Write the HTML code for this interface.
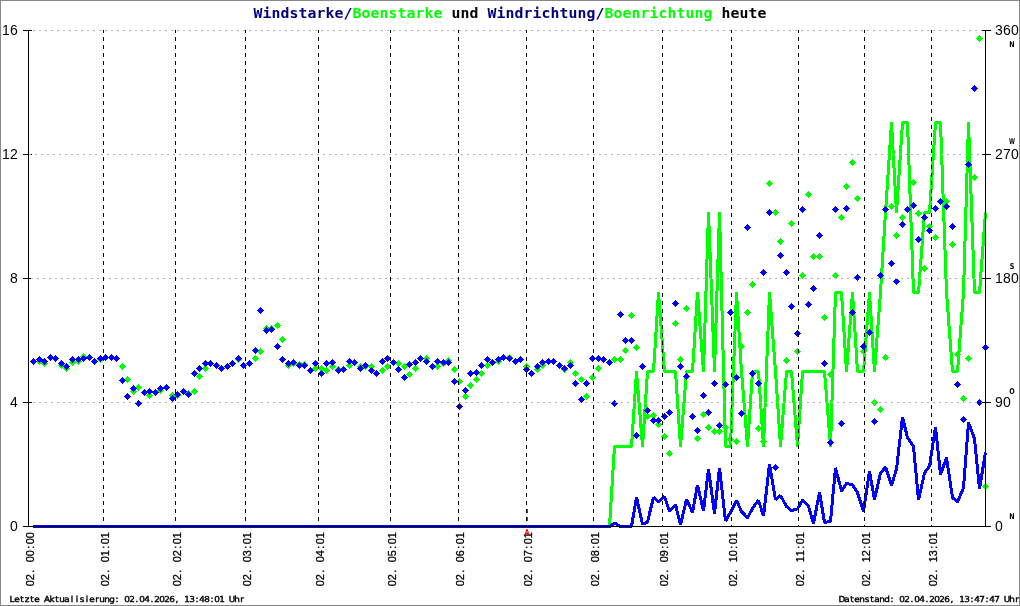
<!DOCTYPE html>
<html lang="de"><head><meta charset="utf-8">
<title>Windstarke/Boenstarke und Windrichtung/Boenrichtung heute</title>
<style>
html,body{margin:0;padding:0;background:#fff;overflow:hidden}
svg{display:block;will-change:transform}
text{white-space:pre}
.t{font-family:"DejaVu Sans Mono","Liberation Mono",monospace;font-weight:bold;font-size:13.6px}
.y{font-family:"Liberation Sans","DejaVu Sans",sans-serif;font-size:14px;fill:#000}
.x{font-family:"Liberation Sans","DejaVu Sans",sans-serif;font-size:10.9px;fill:#000;stroke:#000;stroke-width:0.3px}
.f{font-family:"DejaVu Sans","Liberation Sans",sans-serif;font-weight:normal;text-rendering:geometricPrecision;font-size:8.2px;fill:#000;stroke:#000;stroke-width:0.4px}
.c{font-family:"DejaVu Sans","Liberation Sans",sans-serif;font-weight:bold;font-size:8px}
</style></head><body>
<svg width="1020" height="606" viewBox="0 0 1020 606">
<defs><g id="d"><rect x="-3" y="0" width="7" height="1"/><rect x="-2" y="-1" width="5" height="3"/><rect x="-1" y="-2" width="3" height="5"/><rect x="0" y="-3" width="1" height="7"/></g></defs>
<rect x="0" y="0" width="1020" height="606" fill="#fff"/>
<polyline points="33.0,526.5 39.5,526.5 44.5,526.5 50.5,526.5 55.5,526.5 61.5,526.5 66.5,526.5 72.5,526.5 78.5,526.5 83.5,526.5 89.5,526.5 94.5,526.5 100.5,526.5 105.5,526.5 111.5,526.5 116.5,526.5 122.5,526.5 127.5,526.5 133.5,526.5 138.5,526.5 144.5,526.5 149.5,526.5 155.5,526.5 160.5,526.5 166.5,526.5 172.5,526.5 177.5,526.5 183.5,526.5 188.5,526.5 194.5,526.5 199.5,526.5 205.5,526.5 210.5,526.5 216.5,526.5 221.5,526.5 227.5,526.5 232.5,526.5 238.5,526.5 243.5,526.5 249.5,526.5 255.5,526.5 260.5,526.5 266.5,526.5 271.5,526.5 277.5,526.5 282.5,526.5 288.5,526.5 293.5,526.5 299.5,526.5 304.5,526.5 310.5,526.5 315.5,526.5 321.5,526.5 326.5,526.5 332.5,526.5 338.5,526.5 343.5,526.5 349.5,526.5 354.5,526.5 360.5,526.5 365.5,526.5 371.5,526.5 376.5,526.5 382.5,526.5 387.5,526.5 393.5,526.5 398.5,526.5 404.5,526.5 409.5,526.5 415.5,526.5 420.5,526.5 426.5,526.5 432.5,526.5 437.5,526.5 443.5,526.5 448.5,526.5 454.5,526.5 459.5,526.5 465.5,526.5 470.5,526.5 476.5,526.5 481.5,526.5 487.5,526.5 492.5,526.5 498.5,526.5 503.5,526.5 509.5,526.5 515.5,526.5 520.5,526.5 526.5,526.5 531.5,526.5 537.5,526.5 542.5,526.5 548.5,526.5 553.5,526.5 559.5,526.5 564.5,526.5 570.5,526.5 575.5,526.5 581.5,526.5 586.5,526.5 592.5,526.5 598.5,526.5 603.5,526.5 609.5,526.5 614.5,446.5 620.5,446.5 625.5,446.5 631.5,446.5 636.5,371.5 642.5,446.5 647.5,371.5 653.5,371.5 658.5,292.5 664.5,371.5 669.5,371.5 675.5,371.5 680.5,446.5 686.5,371.5 692.5,371.5 697.5,292.5 703.5,371.5 708.5,212.5 714.5,371.5 719.5,212.5 725.5,446.5 730.5,446.5 736.5,292.5 741.5,371.5 747.5,446.5 752.5,371.5 758.5,371.5 763.5,446.5 769.5,292.5 775.5,371.5 780.5,446.5 786.5,371.5 791.5,371.5 797.5,446.5 802.5,371.5 808.5,371.5 813.5,371.5 819.5,371.5 824.5,371.5 830.5,446.5 835.5,292.5 841.5,292.5 846.5,371.5 852.5,292.5 857.5,371.5 863.5,371.5 869.5,292.5 874.5,371.5 880.5,292.5 885.5,212.5 891.5,122.5 896.5,212.5 902.5,122.5 907.5,122.5 913.5,292.5 918.5,292.5 924.5,212.5 929.5,212.5 935.5,122.5 940.5,122.5 946.5,292.5 952.5,371.5 957.5,371.5 963.5,292.5 968.5,122.5 974.5,292.5 979.5,292.5 985.5,212.5" fill="none" stroke="#00ff00" stroke-width="3" stroke-linejoin="bevel" stroke-linecap="butt" shape-rendering="crispEdges"/>
<polyline points="33.0,526.5 39.5,526.5 44.5,526.5 50.5,526.5 55.5,526.5 61.5,526.5 66.5,526.5 72.5,526.5 78.5,526.5 83.5,526.5 89.5,526.5 94.5,526.5 100.5,526.5 105.5,526.5 111.5,526.5 116.5,526.5 122.5,526.5 127.5,526.5 133.5,526.5 138.5,526.5 144.5,526.5 149.5,526.5 155.5,526.5 160.5,526.5 166.5,526.5 172.5,526.5 177.5,526.5 183.5,526.5 188.5,526.5 194.5,526.5 199.5,526.5 205.5,526.5 210.5,526.5 216.5,526.5 221.5,526.5 227.5,526.5 232.5,526.5 238.5,526.5 243.5,526.5 249.5,526.5 255.5,526.5 260.5,526.5 266.5,526.5 271.5,526.5 277.5,526.5 282.5,526.5 288.5,526.5 293.5,526.5 299.5,526.5 304.5,526.5 310.5,526.5 315.5,526.5 321.5,526.5 326.5,526.5 332.5,526.5 338.5,526.5 343.5,526.5 349.5,526.5 354.5,526.5 360.5,526.5 365.5,526.5 371.5,526.5 376.5,526.5 382.5,526.5 387.5,526.5 393.5,526.5 398.5,526.5 404.5,526.5 409.5,526.5 415.5,526.5 420.5,526.5 426.5,526.5 432.5,526.5 437.5,526.5 443.5,526.5 448.5,526.5 454.5,526.5 459.5,526.5 465.5,526.5 470.5,526.5 476.5,526.5 481.5,526.5 487.5,526.5 492.5,526.5 498.5,526.5 503.5,526.5 509.5,526.5 515.5,526.5 520.5,526.5 526.5,526.5 531.5,526.5 537.5,526.5 542.5,526.5 548.5,526.5 553.5,526.5 559.5,526.5 564.5,526.5 570.5,526.5 575.5,526.5 581.5,526.5 586.5,526.5 592.5,526.5 598.5,526.5 603.5,526.5 609.5,526.5 614.5,523.0 620.5,526.5 625.5,526.5 631.5,526.5 636.5,497.2 642.5,524.3 647.5,521.9 653.5,497.4 658.5,501.5 664.5,496.6 669.5,511.4 675.5,504.6 680.5,525.0 686.5,499.4 692.5,512.3 697.5,485.0 703.5,510.7 708.5,469.0 714.5,513.5 719.5,467.8 725.5,521.0 730.5,512.3 736.5,500.2 741.5,511.4 747.5,517.8 752.5,508.4 758.5,500.2 763.5,516.0 769.5,464.4 775.5,499.6 780.5,495.6 786.5,506.4 791.5,510.6 797.5,508.8 802.5,500.2 808.5,506.4 813.5,523.4 819.5,492.5 824.5,522.4 830.5,521.4 835.5,467.8 841.5,491.1 846.5,483.3 852.5,484.8 857.5,492.7 863.5,511.4 869.5,471.3 874.5,499.6 880.5,473.0 885.5,467.2 891.5,485.2 896.5,469.1 902.5,417.2 907.5,437.7 913.5,446.5 918.5,500.0 924.5,473.0 929.5,466.2 935.5,427.0 940.5,474.6 946.5,457.7 952.5,497.6 957.5,501.9 963.5,487.8 968.5,422.4 974.5,438.7 979.5,488.8 985.5,452.4" fill="none" stroke="#0000ff" stroke-width="3" stroke-linejoin="bevel" stroke-linecap="butt" shape-rendering="crispEdges"/>
<g fill="#00ff00" shape-rendering="crispEdges">
<use href="#d" x="33" y="361"/>
<use href="#d" x="39" y="361"/>
<use href="#d" x="44" y="363"/>
<use href="#d" x="50" y="357"/>
<use href="#d" x="55" y="358"/>
<use href="#d" x="61" y="365"/>
<use href="#d" x="66" y="368"/>
<use href="#d" x="72" y="362"/>
<use href="#d" x="78" y="361"/>
<use href="#d" x="83" y="356"/>
<use href="#d" x="89" y="357"/>
<use href="#d" x="94" y="361"/>
<use href="#d" x="100" y="359"/>
<use href="#d" x="105" y="357"/>
<use href="#d" x="111" y="357"/>
<use href="#d" x="116" y="358"/>
<use href="#d" x="122" y="366"/>
<use href="#d" x="127" y="379"/>
<use href="#d" x="133" y="391"/>
<use href="#d" x="138" y="387"/>
<use href="#d" x="144" y="392"/>
<use href="#d" x="149" y="395"/>
<use href="#d" x="155" y="392"/>
<use href="#d" x="160" y="390"/>
<use href="#d" x="166" y="387"/>
<use href="#d" x="172" y="395"/>
<use href="#d" x="177" y="395"/>
<use href="#d" x="183" y="391"/>
<use href="#d" x="188" y="393"/>
<use href="#d" x="194" y="391"/>
<use href="#d" x="199" y="376"/>
<use href="#d" x="205" y="368"/>
<use href="#d" x="210" y="363"/>
<use href="#d" x="216" y="365"/>
<use href="#d" x="221" y="368"/>
<use href="#d" x="227" y="366"/>
<use href="#d" x="232" y="363"/>
<use href="#d" x="238" y="359"/>
<use href="#d" x="243" y="365"/>
<use href="#d" x="249" y="363"/>
<use href="#d" x="255" y="358"/>
<use href="#d" x="260" y="351"/>
<use href="#d" x="266" y="328"/>
<use href="#d" x="271" y="328"/>
<use href="#d" x="277" y="325"/>
<use href="#d" x="282" y="339"/>
<use href="#d" x="288" y="365"/>
<use href="#d" x="293" y="363"/>
<use href="#d" x="299" y="364"/>
<use href="#d" x="304" y="364"/>
<use href="#d" x="310" y="370"/>
<use href="#d" x="315" y="368"/>
<use href="#d" x="321" y="368"/>
<use href="#d" x="326" y="370"/>
<use href="#d" x="332" y="366"/>
<use href="#d" x="338" y="369"/>
<use href="#d" x="343" y="369"/>
<use href="#d" x="349" y="365"/>
<use href="#d" x="354" y="362"/>
<use href="#d" x="360" y="366"/>
<use href="#d" x="365" y="366"/>
<use href="#d" x="371" y="366"/>
<use href="#d" x="376" y="373"/>
<use href="#d" x="382" y="370"/>
<use href="#d" x="387" y="366"/>
<use href="#d" x="393" y="362"/>
<use href="#d" x="398" y="363"/>
<use href="#d" x="404" y="366"/>
<use href="#d" x="409" y="374"/>
<use href="#d" x="415" y="368"/>
<use href="#d" x="420" y="358"/>
<use href="#d" x="426" y="358"/>
<use href="#d" x="432" y="366"/>
<use href="#d" x="437" y="366"/>
<use href="#d" x="443" y="363"/>
<use href="#d" x="448" y="360"/>
<use href="#d" x="454" y="369"/>
<use href="#d" x="459" y="381"/>
<use href="#d" x="465" y="396"/>
<use href="#d" x="470" y="385"/>
<use href="#d" x="476" y="379"/>
<use href="#d" x="481" y="373"/>
<use href="#d" x="487" y="365"/>
<use href="#d" x="492" y="362"/>
<use href="#d" x="498" y="361"/>
<use href="#d" x="503" y="357"/>
<use href="#d" x="509" y="357"/>
<use href="#d" x="515" y="361"/>
<use href="#d" x="520" y="359"/>
<use href="#d" x="526" y="366"/>
<use href="#d" x="531" y="373"/>
<use href="#d" x="537" y="369"/>
<use href="#d" x="542" y="365"/>
<use href="#d" x="548" y="361"/>
<use href="#d" x="553" y="361"/>
<use href="#d" x="559" y="365"/>
<use href="#d" x="564" y="369"/>
<use href="#d" x="570" y="362"/>
<use href="#d" x="575" y="373"/>
<use href="#d" x="581" y="379"/>
<use href="#d" x="586" y="396"/>
<use href="#d" x="592" y="377"/>
<use href="#d" x="598" y="368"/>
<use href="#d" x="603" y="359"/>
<use href="#d" x="609" y="362"/>
<use href="#d" x="614" y="359"/>
<use href="#d" x="620" y="359"/>
<use href="#d" x="625" y="350"/>
<use href="#d" x="631" y="315"/>
<use href="#d" x="636" y="347"/>
<use href="#d" x="642" y="366"/>
<use href="#d" x="647" y="416"/>
<use href="#d" x="653" y="415"/>
<use href="#d" x="658" y="424"/>
<use href="#d" x="664" y="436"/>
<use href="#d" x="669" y="453"/>
<use href="#d" x="675" y="323"/>
<use href="#d" x="680" y="359"/>
<use href="#d" x="686" y="308"/>
<use href="#d" x="692" y="416"/>
<use href="#d" x="697" y="438"/>
<use href="#d" x="703" y="414"/>
<use href="#d" x="708" y="427"/>
<use href="#d" x="714" y="431"/>
<use href="#d" x="719" y="431"/>
<use href="#d" x="725" y="427"/>
<use href="#d" x="730" y="439"/>
<use href="#d" x="736" y="441"/>
<use href="#d" x="741" y="346"/>
<use href="#d" x="747" y="312"/>
<use href="#d" x="752" y="284"/>
<use href="#d" x="758" y="428"/>
<use href="#d" x="763" y="441"/>
<use href="#d" x="769" y="183"/>
<use href="#d" x="775" y="212"/>
<use href="#d" x="780" y="241"/>
<use href="#d" x="786" y="360"/>
<use href="#d" x="791" y="223"/>
<use href="#d" x="797" y="351"/>
<use href="#d" x="802" y="275"/>
<use href="#d" x="808" y="194"/>
<use href="#d" x="813" y="256"/>
<use href="#d" x="819" y="256"/>
<use href="#d" x="824" y="317"/>
<use href="#d" x="830" y="374"/>
<use href="#d" x="835" y="275"/>
<use href="#d" x="841" y="217"/>
<use href="#d" x="846" y="186"/>
<use href="#d" x="852" y="162"/>
<use href="#d" x="857" y="198"/>
<use href="#d" x="863" y="351"/>
<use href="#d" x="869" y="332"/>
<use href="#d" x="874" y="402"/>
<use href="#d" x="880" y="409"/>
<use href="#d" x="885" y="357"/>
<use href="#d" x="891" y="206"/>
<use href="#d" x="896" y="235"/>
<use href="#d" x="902" y="217"/>
<use href="#d" x="907" y="209"/>
<use href="#d" x="913" y="182"/>
<use href="#d" x="918" y="213"/>
<use href="#d" x="924" y="268"/>
<use href="#d" x="929" y="226"/>
<use href="#d" x="935" y="237"/>
<use href="#d" x="940" y="201"/>
<use href="#d" x="946" y="201"/>
<use href="#d" x="952" y="244"/>
<use href="#d" x="957" y="354"/>
<use href="#d" x="963" y="398"/>
<use href="#d" x="968" y="358"/>
<use href="#d" x="974" y="177"/>
<use href="#d" x="979" y="38"/>
<use href="#d" x="985" y="486"/>
</g>
<g fill="#0000ff" shape-rendering="crispEdges">
<use href="#d" x="33" y="361"/>
<use href="#d" x="39" y="359"/>
<use href="#d" x="44" y="361"/>
<use href="#d" x="50" y="357"/>
<use href="#d" x="55" y="358"/>
<use href="#d" x="61" y="363"/>
<use href="#d" x="66" y="366"/>
<use href="#d" x="72" y="359"/>
<use href="#d" x="78" y="359"/>
<use href="#d" x="83" y="358"/>
<use href="#d" x="89" y="357"/>
<use href="#d" x="94" y="361"/>
<use href="#d" x="100" y="358"/>
<use href="#d" x="105" y="357"/>
<use href="#d" x="111" y="357"/>
<use href="#d" x="116" y="358"/>
<use href="#d" x="122" y="380"/>
<use href="#d" x="127" y="396"/>
<use href="#d" x="133" y="388"/>
<use href="#d" x="138" y="403"/>
<use href="#d" x="144" y="392"/>
<use href="#d" x="149" y="391"/>
<use href="#d" x="155" y="392"/>
<use href="#d" x="160" y="388"/>
<use href="#d" x="166" y="387"/>
<use href="#d" x="172" y="398"/>
<use href="#d" x="177" y="394"/>
<use href="#d" x="183" y="391"/>
<use href="#d" x="188" y="394"/>
<use href="#d" x="194" y="373"/>
<use href="#d" x="199" y="368"/>
<use href="#d" x="205" y="363"/>
<use href="#d" x="210" y="363"/>
<use href="#d" x="216" y="365"/>
<use href="#d" x="221" y="368"/>
<use href="#d" x="227" y="366"/>
<use href="#d" x="232" y="363"/>
<use href="#d" x="238" y="358"/>
<use href="#d" x="243" y="365"/>
<use href="#d" x="249" y="363"/>
<use href="#d" x="255" y="350"/>
<use href="#d" x="260" y="310"/>
<use href="#d" x="266" y="330"/>
<use href="#d" x="271" y="329"/>
<use href="#d" x="277" y="346"/>
<use href="#d" x="282" y="359"/>
<use href="#d" x="288" y="363"/>
<use href="#d" x="293" y="362"/>
<use href="#d" x="299" y="365"/>
<use href="#d" x="304" y="365"/>
<use href="#d" x="310" y="370"/>
<use href="#d" x="315" y="363"/>
<use href="#d" x="321" y="373"/>
<use href="#d" x="326" y="363"/>
<use href="#d" x="332" y="362"/>
<use href="#d" x="338" y="370"/>
<use href="#d" x="343" y="369"/>
<use href="#d" x="349" y="361"/>
<use href="#d" x="354" y="362"/>
<use href="#d" x="360" y="368"/>
<use href="#d" x="365" y="365"/>
<use href="#d" x="371" y="370"/>
<use href="#d" x="376" y="373"/>
<use href="#d" x="382" y="361"/>
<use href="#d" x="387" y="358"/>
<use href="#d" x="393" y="362"/>
<use href="#d" x="398" y="369"/>
<use href="#d" x="404" y="377"/>
<use href="#d" x="409" y="364"/>
<use href="#d" x="415" y="362"/>
<use href="#d" x="420" y="358"/>
<use href="#d" x="426" y="361"/>
<use href="#d" x="432" y="366"/>
<use href="#d" x="437" y="361"/>
<use href="#d" x="443" y="362"/>
<use href="#d" x="448" y="362"/>
<use href="#d" x="454" y="381"/>
<use href="#d" x="459" y="406"/>
<use href="#d" x="465" y="390"/>
<use href="#d" x="470" y="373"/>
<use href="#d" x="476" y="372"/>
<use href="#d" x="481" y="365"/>
<use href="#d" x="487" y="359"/>
<use href="#d" x="492" y="362"/>
<use href="#d" x="498" y="359"/>
<use href="#d" x="503" y="357"/>
<use href="#d" x="509" y="358"/>
<use href="#d" x="515" y="361"/>
<use href="#d" x="520" y="359"/>
<use href="#d" x="526" y="369"/>
<use href="#d" x="531" y="373"/>
<use href="#d" x="537" y="366"/>
<use href="#d" x="542" y="362"/>
<use href="#d" x="548" y="361"/>
<use href="#d" x="553" y="361"/>
<use href="#d" x="559" y="365"/>
<use href="#d" x="564" y="368"/>
<use href="#d" x="570" y="365"/>
<use href="#d" x="575" y="383"/>
<use href="#d" x="581" y="399"/>
<use href="#d" x="586" y="383"/>
<use href="#d" x="592" y="358"/>
<use href="#d" x="598" y="358"/>
<use href="#d" x="603" y="359"/>
<use href="#d" x="609" y="362"/>
<use href="#d" x="614" y="403"/>
<use href="#d" x="620" y="314"/>
<use href="#d" x="625" y="340"/>
<use href="#d" x="631" y="340"/>
<use href="#d" x="636" y="435"/>
<use href="#d" x="642" y="366"/>
<use href="#d" x="647" y="410"/>
<use href="#d" x="653" y="420"/>
<use href="#d" x="658" y="420"/>
<use href="#d" x="664" y="416"/>
<use href="#d" x="669" y="412"/>
<use href="#d" x="675" y="303"/>
<use href="#d" x="680" y="366"/>
<use href="#d" x="686" y="376"/>
<use href="#d" x="692" y="416"/>
<use href="#d" x="697" y="430"/>
<use href="#d" x="703" y="395"/>
<use href="#d" x="708" y="412"/>
<use href="#d" x="714" y="383"/>
<use href="#d" x="719" y="425"/>
<use href="#d" x="725" y="384"/>
<use href="#d" x="730" y="312"/>
<use href="#d" x="736" y="377"/>
<use href="#d" x="741" y="413"/>
<use href="#d" x="747" y="227"/>
<use href="#d" x="752" y="373"/>
<use href="#d" x="758" y="383"/>
<use href="#d" x="763" y="272"/>
<use href="#d" x="769" y="212"/>
<use href="#d" x="775" y="467"/>
<use href="#d" x="780" y="255"/>
<use href="#d" x="786" y="272"/>
<use href="#d" x="791" y="306"/>
<use href="#d" x="797" y="333"/>
<use href="#d" x="802" y="209"/>
<use href="#d" x="808" y="304"/>
<use href="#d" x="813" y="288"/>
<use href="#d" x="819" y="235"/>
<use href="#d" x="824" y="363"/>
<use href="#d" x="830" y="442"/>
<use href="#d" x="835" y="209"/>
<use href="#d" x="841" y="423"/>
<use href="#d" x="846" y="208"/>
<use href="#d" x="852" y="312"/>
<use href="#d" x="857" y="277"/>
<use href="#d" x="863" y="346"/>
<use href="#d" x="869" y="332"/>
<use href="#d" x="874" y="421"/>
<use href="#d" x="880" y="275"/>
<use href="#d" x="885" y="209"/>
<use href="#d" x="891" y="263"/>
<use href="#d" x="896" y="281"/>
<use href="#d" x="902" y="224"/>
<use href="#d" x="907" y="209"/>
<use href="#d" x="913" y="205"/>
<use href="#d" x="918" y="239"/>
<use href="#d" x="924" y="217"/>
<use href="#d" x="929" y="230"/>
<use href="#d" x="935" y="208"/>
<use href="#d" x="940" y="201"/>
<use href="#d" x="946" y="206"/>
<use href="#d" x="952" y="226"/>
<use href="#d" x="957" y="384"/>
<use href="#d" x="963" y="419"/>
<use href="#d" x="968" y="164"/>
<use href="#d" x="974" y="88"/>
<use href="#d" x="979" y="402"/>
<use href="#d" x="985" y="347"/>
</g>
<g shape-rendering="crispEdges">
<rect x="23" y="30" width="9" height="1" fill="#000"/>
<rect x="23" y="154" width="9" height="1" fill="#000"/>
<rect x="23" y="278" width="9" height="1" fill="#000"/>
<rect x="23" y="402" width="9" height="1" fill="#000"/>
<line x1="33" y1="30.5" x2="985" y2="30.5" stroke="#b0b0b0" stroke-width="1" stroke-dasharray="2 4"/>
<line x1="29" y1="154.5" x2="985" y2="154.5" stroke="#b0b0b0" stroke-width="1" stroke-dasharray="2 4"/>
<line x1="31" y1="278.5" x2="985" y2="278.5" stroke="#b0b0b0" stroke-width="1" stroke-dasharray="2 4"/>
<line x1="33" y1="402.5" x2="985" y2="402.5" stroke="#b0b0b0" stroke-width="1" stroke-dasharray="2 4"/>
<line x1="103.5" y1="30" x2="103.5" y2="526" stroke="#000" stroke-width="1" stroke-dasharray="4 4" stroke-dashoffset="1"/>
<line x1="175.5" y1="30" x2="175.5" y2="526" stroke="#000" stroke-width="1" stroke-dasharray="4 4" stroke-dashoffset="1"/>
<line x1="245.5" y1="30" x2="245.5" y2="526" stroke="#000" stroke-width="1" stroke-dasharray="4 4" stroke-dashoffset="1"/>
<line x1="318.5" y1="30" x2="318.5" y2="526" stroke="#000" stroke-width="1" stroke-dasharray="4 4" stroke-dashoffset="1"/>
<line x1="390.5" y1="30" x2="390.5" y2="526" stroke="#000" stroke-width="1" stroke-dasharray="4 4" stroke-dashoffset="1"/>
<line x1="458.5" y1="30" x2="458.5" y2="526" stroke="#000" stroke-width="1" stroke-dasharray="4 4" stroke-dashoffset="1"/>
<line x1="526.5" y1="30" x2="526.5" y2="526" stroke="#000" stroke-width="1" stroke-dasharray="4 4" stroke-dashoffset="1"/>
<line x1="593.5" y1="30" x2="593.5" y2="526" stroke="#000" stroke-width="1" stroke-dasharray="4 4" stroke-dashoffset="1"/>
<line x1="662.5" y1="30" x2="662.5" y2="526" stroke="#000" stroke-width="1" stroke-dasharray="4 4" stroke-dashoffset="1"/>
<line x1="731.5" y1="30" x2="731.5" y2="526" stroke="#000" stroke-width="1" stroke-dasharray="4 4" stroke-dashoffset="1"/>
<line x1="798.5" y1="30" x2="798.5" y2="526" stroke="#000" stroke-width="1" stroke-dasharray="4 4" stroke-dashoffset="1"/>
<line x1="864.5" y1="30" x2="864.5" y2="526" stroke="#000" stroke-width="1" stroke-dasharray="4 4" stroke-dashoffset="1"/>
<line x1="931.5" y1="30" x2="931.5" y2="526" stroke="#000" stroke-width="1" stroke-dasharray="4 4" stroke-dashoffset="1"/>
<line x1="527.5" y1="509" x2="527.5" y2="527" stroke="#ff0000" stroke-width="1" stroke-dasharray="4 4"/>
<rect x="28" y="30" width="1" height="497" fill="#000"/>
<rect x="985" y="30" width="1" height="497" fill="#000"/>
<rect x="23" y="526" width="968" height="1" fill="#000"/>
<rect x="982" y="30" width="9" height="1" fill="#000"/>
<rect x="982" y="154" width="9" height="1" fill="#000"/>
<rect x="982" y="278" width="9" height="1" fill="#000"/>
<rect x="982" y="402" width="9" height="1" fill="#000"/>
<rect x="103" y="525" width="1" height="1" fill="#000"/>
<rect x="175" y="525" width="1" height="1" fill="#000"/>
<rect x="245" y="525" width="1" height="1" fill="#000"/>
<rect x="318" y="525" width="1" height="1" fill="#000"/>
<rect x="390" y="525" width="1" height="1" fill="#000"/>
<rect x="458" y="525" width="1" height="1" fill="#000"/>
<rect x="526" y="525" width="1" height="1" fill="#000"/>
<rect x="593" y="525" width="1" height="1" fill="#000"/>
<rect x="662" y="525" width="1" height="1" fill="#000"/>
<rect x="731" y="525" width="1" height="1" fill="#000"/>
<rect x="798" y="525" width="1" height="1" fill="#000"/>
<rect x="864" y="525" width="1" height="1" fill="#000"/>
<rect x="931" y="525" width="1" height="1" fill="#000"/>
<rect x="0" y="0" width="1020" height="1" fill="#888888"/>
<rect x="0" y="605" width="1020" height="1" fill="#888888"/>
<rect x="0" y="0" width="1" height="606" fill="#888888"/>
<rect x="1019" y="0" width="1" height="606" fill="#888888"/>
</g>
<text class="t" text-anchor="middle" x="236.70 244.95 253.21 261.47 269.72 277.98 286.24 294.50 302.75 311.01 319.27" y="18.00" fill="#000080" transform="scale(1.0900 1)" xml:space="preserve">Windstarke/</text>
<text class="t" text-anchor="middle" x="327.52 335.78 344.04 352.29 360.55 368.81 377.06 385.32 393.58 401.83" y="18.00" fill="#00ff00" transform="scale(1.0900 1)" xml:space="preserve">Boenstarke</text>
<text class="t" text-anchor="middle" x="410.09 418.35 426.61 434.86 443.12" y="18.00" fill="#000" transform="scale(1.0900 1)" xml:space="preserve"> und </text>
<text class="t" text-anchor="middle" x="451.38 459.63 467.89 476.15 484.40 492.66 500.92 509.17 517.43 525.69 533.94 542.20 550.46" y="18.00" fill="#000080" transform="scale(1.0900 1)" xml:space="preserve">Windrichtung/</text>
<text class="t" text-anchor="middle" x="558.72 566.97 575.23 583.49 591.74 600.00 608.26 616.51 624.77 633.03 641.28 649.54" y="18.00" fill="#00ff00" transform="scale(1.0900 1)" xml:space="preserve">Boenrichtung</text>
<text class="t" text-anchor="middle" x="657.80 666.06 674.31 682.57 690.83 699.08" y="18.00" fill="#000" transform="scale(1.0900 1)" xml:space="preserve"> heute</text>
<text class="y" text-anchor="middle" x="6.00 14.00" y="34.60" xml:space="preserve">16</text>
<text class="y" text-anchor="middle" x="6.00 14.00" y="158.60" xml:space="preserve">12</text>
<text class="y" text-anchor="middle" x="14.00" y="282.60" xml:space="preserve">8</text>
<text class="y" text-anchor="middle" x="14.00" y="406.60" xml:space="preserve">4</text>
<text class="y" text-anchor="middle" x="14.00" y="530.60" xml:space="preserve">0</text>
<text class="y" text-anchor="middle" x="999.00 1007.00 1015.00" y="34.60" xml:space="preserve">360</text>
<text class="y" text-anchor="middle" x="999.00 1007.00 1015.00" y="158.60" xml:space="preserve">270</text>
<text class="y" text-anchor="middle" x="999.00 1007.00 1015.00" y="282.60" xml:space="preserve">180</text>
<text class="y" text-anchor="middle" x="999.00 1007.00" y="406.60" xml:space="preserve">90</text>
<text class="y" text-anchor="middle" x="999.00" y="530.60" xml:space="preserve">0</text>
<text class="c" text-anchor="middle" x="1265.00" y="47.00" transform="scale(0.8000 1)" xml:space="preserve">N</text>
<text class="c" text-anchor="middle" x="1488.24" y="144.00" transform="scale(0.6800 1)" xml:space="preserve">W</text>
<text class="c" text-anchor="middle" x="1265.00" y="269.00" transform="scale(0.8000 1)" xml:space="preserve">S</text>
<text class="c" text-anchor="middle" x="1265.00" y="394.00" transform="scale(0.8000 1)" xml:space="preserve">O</text>
<text class="c" text-anchor="middle" x="1265.00" y="519.00" transform="scale(0.8000 1)" xml:space="preserve">N</text>
<g transform="translate(34.3,586.2) rotate(-90)">
<text class="x" text-anchor="middle" x="3.00 9.00 15.00 21.00 27.00 33.00 39.00 45.00 51.00" y="0.00" xml:space="preserve">02. 00:00</text>
</g>
<g transform="translate(109.3,586.2) rotate(-90)">
<text class="x" text-anchor="middle" x="3.00 9.00 15.00 21.00 27.00 33.00 39.00 45.00 51.00" y="0.00" xml:space="preserve">02. 01:01</text>
</g>
<g transform="translate(181.3,586.2) rotate(-90)">
<text class="x" text-anchor="middle" x="3.00 9.00 15.00 21.00 27.00 33.00 39.00 45.00 51.00" y="0.00" xml:space="preserve">02. 02:01</text>
</g>
<g transform="translate(251.3,586.2) rotate(-90)">
<text class="x" text-anchor="middle" x="3.00 9.00 15.00 21.00 27.00 33.00 39.00 45.00 51.00" y="0.00" xml:space="preserve">02. 03:01</text>
</g>
<g transform="translate(324.3,586.2) rotate(-90)">
<text class="x" text-anchor="middle" x="3.00 9.00 15.00 21.00 27.00 33.00 39.00 45.00 51.00" y="0.00" xml:space="preserve">02. 04:01</text>
</g>
<g transform="translate(396.3,586.2) rotate(-90)">
<text class="x" text-anchor="middle" x="3.00 9.00 15.00 21.00 27.00 33.00 39.00 45.00 51.00" y="0.00" xml:space="preserve">02. 05:01</text>
</g>
<g transform="translate(464.3,586.2) rotate(-90)">
<text class="x" text-anchor="middle" x="3.00 9.00 15.00 21.00 27.00 33.00 39.00 45.00 51.00" y="0.00" xml:space="preserve">02. 06:01</text>
</g>
<g transform="translate(532.3,586.2) rotate(-90)">
<text class="x" text-anchor="middle" x="3.00 9.00 15.00 21.00 27.00 33.00 39.00 45.00 51.00" y="0.00" xml:space="preserve">02. 07:01</text>
</g>
<g transform="translate(599.3,586.2) rotate(-90)">
<text class="x" text-anchor="middle" x="3.00 9.00 15.00 21.00 27.00 33.00 39.00 45.00 51.00" y="0.00" xml:space="preserve">02. 08:01</text>
</g>
<g transform="translate(668.3,586.2) rotate(-90)">
<text class="x" text-anchor="middle" x="3.00 9.00 15.00 21.00 27.00 33.00 39.00 45.00 51.00" y="0.00" xml:space="preserve">02. 09:01</text>
</g>
<g transform="translate(737.3,586.2) rotate(-90)">
<text class="x" text-anchor="middle" x="3.00 9.00 15.00 21.00 27.00 33.00 39.00 45.00 51.00" y="0.00" xml:space="preserve">02. 10:01</text>
</g>
<g transform="translate(804.3,586.2) rotate(-90)">
<text class="x" text-anchor="middle" x="3.00 9.00 15.00 21.00 27.00 33.00 39.00 45.00 51.00" y="0.00" xml:space="preserve">02. 11:01</text>
</g>
<g transform="translate(870.3,586.2) rotate(-90)">
<text class="x" text-anchor="middle" x="3.00 9.00 15.00 21.00 27.00 33.00 39.00 45.00 51.00" y="0.00" xml:space="preserve">02. 12:01</text>
</g>
<g transform="translate(937.3,586.2) rotate(-90)">
<text class="x" text-anchor="middle" x="3.00 9.00 15.00 21.00 27.00 33.00 39.00 45.00 51.00" y="0.00" xml:space="preserve">02. 13:01</text>
</g>
<text class="c" text-anchor="middle" x="658.88" y="534.60" fill="#ff0000" transform="scale(0.8000 1)" xml:space="preserve">A</text>
<text class="f" text-anchor="middle" x="11.11 15.74 20.37 25.00 29.63 34.26 38.89 43.52 48.15 52.78 57.41 62.04 66.67 71.30 75.93 80.56 85.19 89.81 94.44 99.07 103.70 108.33 112.96 117.59 122.22 126.85 131.48 136.11 140.74 145.37 150.00 154.63 159.26 163.89 168.52 173.15 177.78 182.41 187.04 191.67 196.30 200.93 205.56 210.19 214.81 219.44 224.07" y="602.00" transform="scale(1.0800 1)" xml:space="preserve">Letzte Aktualisierung: 02.04.2026, 13:48:01 Uhr</text>
<text class="f" text-anchor="middle" x="779.63 784.26 788.89 793.52 798.15 802.78 807.41 812.04 816.67 821.30 825.93 830.56 835.19 839.81 844.44 849.07 853.70 858.33 862.96 867.59 872.22 876.85 881.48 886.11 890.74 895.37 900.00 904.63 909.26 913.89 918.52 923.15 927.78 932.41 937.04 941.67" y="602.00" transform="scale(1.0800 1)" xml:space="preserve">Datenstand: 02.04.2026, 13:47:47 Uhr</text>
</svg></body></html>
